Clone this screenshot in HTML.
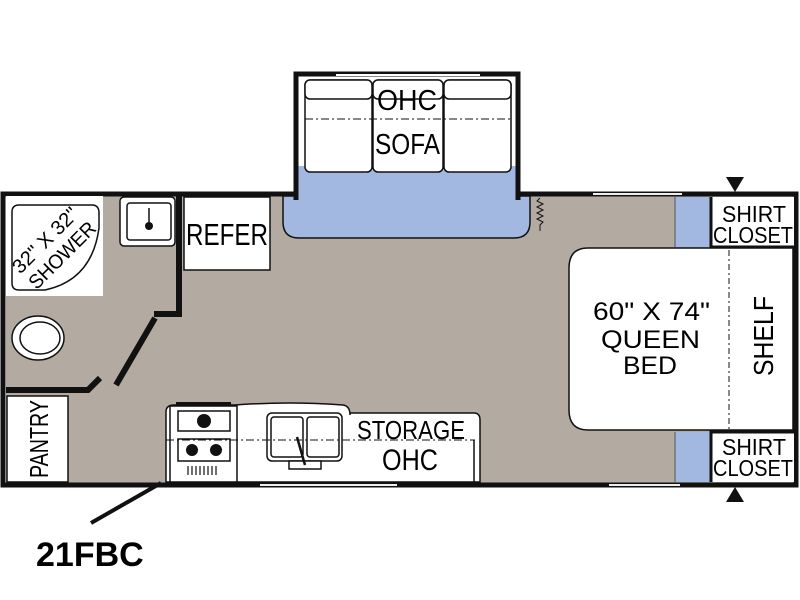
<!DOCTYPE html>
<html><head><style>body{margin:0;background:#fff}svg{display:block}</style></head><body>
<svg width="800" height="600" viewBox="0 0 800 600" xmlns="http://www.w3.org/2000/svg" font-family="Liberation Sans, sans-serif">
<rect width="800" height="600" fill="#fff"/>
<rect x="6" y="195" width="790" height="290" fill="#b3aba2"/>
<rect x="296" y="74" width="222" height="126" fill="#fff"/>
<path d="M283 196 H530 V222 Q530 238 514 238 H299 Q283 238 283 222 Z" fill="#a3b8e0" stroke="#111" stroke-width="1.5"/>
<rect x="296" y="166" width="222" height="34" fill="#a3b8e0"/>
<path d="M296 200 V74 H518 V200" fill="none" stroke="#111" stroke-width="5"/>
<line x1="336" y1="75" x2="480" y2="75" stroke="#fff" stroke-width="2"/>
<g fill="#fff" stroke="#111" stroke-width="1.5">
<rect x="305" y="80" width="67" height="92" rx="5"/>
<rect x="373" y="80" width="70" height="92" rx="5"/>
<rect x="444" y="80" width="67" height="92" rx="5"/>
<rect x="305" y="80" width="67" height="19" rx="5"/>
<rect x="373" y="80" width="70" height="19" rx="5"/>
<rect x="444" y="80" width="67" height="19" rx="5"/>
</g>
<line x1="305" y1="119" x2="511" y2="119" stroke="#111" stroke-width="1" stroke-dasharray="8,3,2,3"/>
<text x="377" y="110" font-size="29" textLength="60" lengthAdjust="spacingAndGlyphs">OHC</text>
<text x="375" y="154" font-size="29" textLength="65" lengthAdjust="spacingAndGlyphs">SOFA</text>
<path d="M296 194 H3 V485 H796 V194 H518" fill="none" stroke="#111" stroke-width="5"/>
<line x1="593" y1="194" x2="682" y2="194" stroke="#eee" stroke-width="2"/>
<line x1="609" y1="485" x2="680" y2="485" stroke="#eee" stroke-width="2"/>
<line x1="260" y1="485" x2="397" y2="485" stroke="#eee" stroke-width="2"/>
<path d="M540 198 l-3 3 l6 3 l-6 3 l6 3 l-6 3 l6 3 l-6 3 l6 3 l-3 3 v6" fill="none" stroke="#111" stroke-width="1"/>
<!-- bathroom -->
<rect x="6" y="196" width="97" height="100" fill="#fff"/>
<path d="M19 205 H92 Q99 205 99 213 V228 Q92 280 45 290 H19 Q12 290 12 283 V212 Q12 205 19 205 Z" fill="#fff" stroke="#111" stroke-width="1.5"/>
<text transform="translate(50,245) rotate(-45)" font-size="20" text-anchor="middle" textLength="84" lengthAdjust="spacingAndGlyphs">32" X 32"</text>
<text transform="translate(67,260) rotate(-45)" font-size="20" text-anchor="middle" textLength="86" lengthAdjust="spacingAndGlyphs">SHOWER</text>
<rect x="120" y="197" width="55" height="49" rx="4" fill="#fff" stroke="#111" stroke-width="1.5"/>
<rect x="127" y="203" width="44" height="37" rx="3" fill="#fff" stroke="#111" stroke-width="1.5"/>
<circle cx="149" cy="226" r="4" fill="#111"/><line x1="149" y1="208" x2="149" y2="226" stroke="#111" stroke-width="1.5"/>
<ellipse cx="38" cy="338" rx="26" ry="22" fill="#fff" stroke="#111" stroke-width="1.5"/>
<ellipse cx="40" cy="338" rx="20" ry="16" fill="#fff" stroke="#111" stroke-width="1.5"/>
<path d="M179 196 V314 H154" fill="none" stroke="#111" stroke-width="6"/>
<line x1="155" y1="318" x2="116" y2="385" stroke="#111" stroke-width="6"/>
<path d="M6 390 H88 L100 378" fill="none" stroke="#111" stroke-width="6"/>
<rect x="7" y="396" width="61" height="86" fill="#fff" stroke="#111" stroke-width="1.5"/>
<text transform="translate(48,478) rotate(-90)" font-size="26" textLength="78" lengthAdjust="spacingAndGlyphs">PANTRY</text>
<rect x="184" y="197" width="86" height="73" fill="#fff" stroke="#111" stroke-width="1.5"/>
<text x="186" y="245" font-size="31" textLength="82" lengthAdjust="spacingAndGlyphs">REFER</text>
<!-- kitchen -->
<path d="M166 482 V412 Q166 405 174 405 H235 Q290 401 343 405 Q350 406 350 415 L350 413 H474 Q480 413 480 420 V482 Z" fill="#fff" stroke="#111" stroke-width="1.5"/>
<rect x="176" y="402" width="55" height="3" fill="#111"/>
<rect x="170" y="406" width="67" height="76" fill="#fff" stroke="#111" stroke-width="1.5"/>
<g stroke="#111" stroke-width="1.5" fill="none">
<rect x="178" y="411" width="52" height="20"/><rect x="178" y="439" width="52" height="22"/>
</g>
<circle cx="204" cy="421" r="7" fill="#111"/><circle cx="192" cy="450" r="6" fill="#111"/><circle cx="216" cy="450" r="6" fill="#111"/>
<g stroke="#111" stroke-width="1.2"><line x1="188" y1="466" x2="188" y2="475"/><line x1="192" y1="466" x2="192" y2="475"/><line x1="196" y1="466" x2="196" y2="475"/><line x1="200" y1="466" x2="200" y2="475"/><line x1="204" y1="466" x2="204" y2="475"/><line x1="208" y1="466" x2="208" y2="475"/><line x1="212" y1="466" x2="212" y2="475"/><line x1="216" y1="466" x2="216" y2="475"/></g>
<rect x="267" y="413" width="75" height="48" rx="5" fill="#fff" stroke="#111" stroke-width="1.5"/>
<rect x="271" y="417" width="32" height="40" rx="3" fill="none" stroke="#111" stroke-width="1.5"/>
<rect x="307" y="417" width="32" height="40" rx="3" fill="none" stroke="#111" stroke-width="1.5"/>
<rect x="289" y="461" width="32" height="8" fill="#fff" stroke="#111" stroke-width="1.5"/>
<line x1="297" y1="437" x2="305" y2="465" stroke="#111" stroke-width="2.5"/>
<line x1="166" y1="440" x2="475" y2="440" stroke="#111" stroke-width="1" stroke-dasharray="8,3,2,3"/>
<line x1="474" y1="440" x2="474" y2="482" stroke="#111" stroke-width="1.5"/>
<text x="357" y="439" font-size="26" textLength="108" lengthAdjust="spacingAndGlyphs">STORAGE</text>
<text x="382" y="470" font-size="30" textLength="56" lengthAdjust="spacingAndGlyphs">OHC</text>
<!-- bedroom -->
<rect x="675" y="197" width="36" height="50" fill="#a3b8e0"/>
<rect x="675" y="432" width="36" height="50" fill="#a3b8e0"/>
<line x1="675" y1="197" x2="675" y2="247" stroke="#555" stroke-width="1"/>
<line x1="675" y1="432" x2="675" y2="482" stroke="#555" stroke-width="1"/>
<path d="M793 248 H588 Q569 248 569 268 V410 Q569 430 588 430 H793 Z" fill="#fff" stroke="#111" stroke-width="1.5"/>
<line x1="729" y1="250" x2="729" y2="430" stroke="#111" stroke-width="1" stroke-dasharray="6,3,2,3"/>
<rect x="711" y="197" width="83" height="50" fill="#fff"/>
<rect x="711" y="432" width="83" height="50" fill="#fff"/>
<path d="M711 197 V247 H794" fill="none" stroke="#111" stroke-width="3"/>
<path d="M711 482 V432 H794" fill="none" stroke="#111" stroke-width="3"/>
<text x="722" y="222" font-size="23" textLength="64" lengthAdjust="spacingAndGlyphs">SHIRT</text>
<text x="713" y="243" font-size="23" textLength="80" lengthAdjust="spacingAndGlyphs">CLOSET</text>
<text x="722" y="455" font-size="23" textLength="64" lengthAdjust="spacingAndGlyphs">SHIRT</text>
<text x="713" y="476" font-size="23" textLength="80" lengthAdjust="spacingAndGlyphs">CLOSET</text>
<text x="593" y="320" font-size="25" textLength="117" lengthAdjust="spacingAndGlyphs">60" X 74"</text>
<text x="601" y="348" font-size="25" textLength="99" lengthAdjust="spacingAndGlyphs">QUEEN</text>
<text x="623" y="374" font-size="25" textLength="54" lengthAdjust="spacingAndGlyphs">BED</text>
<text transform="translate(773,376) rotate(-90)" font-size="28" textLength="80" lengthAdjust="spacingAndGlyphs">SHELF</text>
<path d="M726 177 H744 L735 192 Z" fill="#111"/>
<path d="M726 502 H744 L735 487 Z" fill="#111"/>
<line x1="91" y1="523" x2="161" y2="483" stroke="#111" stroke-width="4"/>
<text x="36" y="566" font-size="34" font-weight="bold">21FBC</text>
</svg>
</body></html>
